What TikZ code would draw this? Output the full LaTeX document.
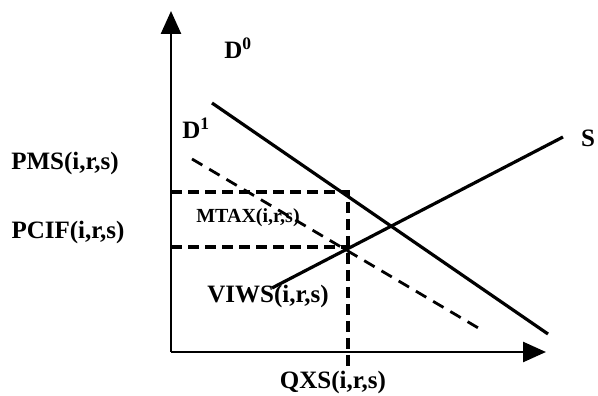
\documentclass[tikz,border=0pt]{standalone}
\usepackage{fontspec}
\setmainfont{Liberation Serif}
\usetikzlibrary{arrows.meta, math}

\begin{document}
\begin{tikzpicture}[x=1pt,y=1pt,
  axis/.style={line width=2.6pt,-{Triangle[length=23pt,width=20pt]}},
  curve/.style={line width=3.2pt},
  guide/.style={line width=3.4pt, dash pattern=on 11pt off 6pt},
  shifted/.style={line width=2.8pt, dash pattern=on 12pt off 8pt},
  lbl/.style={font=\fontsize{25}{30}\selectfont\bfseries, inner sep=0pt},
  small/.style={font=\fontsize{20}{24}\selectfont\bfseries, inner sep=0pt}]
\useasboundingbox (0,0) rectangle (598,396);
\tikzmath{
\qx=348;
\pms=204;
\pcif=149;
}

%axes
\coordinate (O) at (171,44);
\coordinate (Ytop) at (171,385);
\coordinate (Xend) at (546,44);
\draw[axis] (O) -- (Ytop);
\draw[axis] (O) -- (Xend);

%demand and supply
\coordinate (D0a) at (212,293);
\coordinate (D0b) at (548,62);
\coordinate (D1a) at (192,237);
\coordinate (D1b) at (480,67);
\coordinate (Sa) at (272,108);
\coordinate (Sb) at (563,259);
\draw[curve] (D0a) -- (D0b);
\draw[shifted] (D1a) -- (D1b);
\draw[curve] (Sa) -- (Sb);

%price and quantity guides
\coordinate (Pm) at (171,\pms);
\coordinate (Pc) at (171,\pcif);
\coordinate (Em) at (\qx,\pms);
\coordinate (Ec) at (\qx,\pcif);
\coordinate (Qb) at (\qx,24);
\draw[guide] (Pm) -- (Em) -- (Qb);
\draw[guide] (Pc) -- (Ec);

%labels
\node[lbl] (d0) at (238,348) {D\textsuperscript{0}};
\node[lbl] (d1) at (196,268) {D\textsuperscript{1}};
\node[lbl] (s) at (588,258) {S};
\node[lbl] (pms) at (65,233) {PMS(i,r,s)};
\node[lbl] (pcif) at (68,164) {PCIF(i,r,s)};
\node[small] (mtax) at (248,178) {MTAX(i,r,s)};
\node[lbl] (viws) at (268,100) {VIWS(i,r,s)};
\node[lbl] (qxs) at (333,14) {QXS(i,r,s)};

\end{tikzpicture}
\end{document}
